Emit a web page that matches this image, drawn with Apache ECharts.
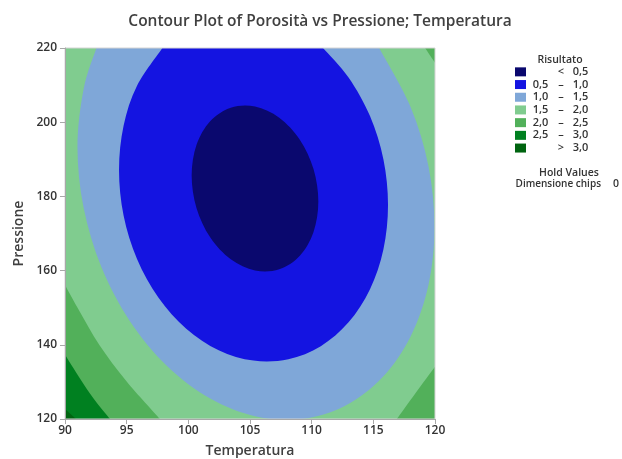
<!DOCTYPE html>
<html>
<head>
<meta charset="utf-8">
<script src="https://cdn.jsdelivr.net/npm/echarts@6/dist/echarts.min.js"></script>
<style>
  html, body { margin: 0; padding: 0; background: #fff; }
  #chart { width: 622px; height: 459px; }
</style>
</head>
<body>
<div id="chart"></div>
<script>
// Axis ticks
const temperaturaTicks = [90, 95, 100, 105, 110, 115, 120];
const pressioneTicks = [120, 140, 160, 180, 200, 220];

// Contour levels of Porosità and the fill colour of each band
const levels = [0.5, 1.0, 1.5, 2.0, 2.5, 3.0];
const bandColors = ['#0a086e', '#1414e1', '#7fa7d8', '#80cc8f', '#52b05a', '#008020', '#006410'];

// Contour lines as [Temperatura, Pressione] pairs
const contour05 = [[110.54,178.63],[110.15,170.43],[109.04,164.02],[107.37,160.35],[105.41,160.03],
  [103.44,163.05],[101.77,168.98],[100.66,176.90],[100.27,185.63],[100.66,193.83],[101.77,200.24],
  [103.44,203.91],[105.41,204.23],[107.37,201.21],[109.04,195.28],[110.15,187.36]];
const contour10 = [[97.90,220],[95.84,209.81],[94.75,199.03],[94.38,187.12],[94.75,174.88],[95.84,163.15],
  [97.57,152.75],[99.83,144.35],[102.46,138.54],[105.28,135.74],[108.11,136.12],[110.74,139.64],
  [112.99,146.06],[114.73,154.99],[115.82,165.77],[116.19,177.68],[115.82,189.92],[114.73,201.64],
  [112.99,212.05],[110.92,220]];
const contour15 = [[92.55,220],[91.51,208.95],[91.01,193.32],[91.51,176.93],[92.95,160.94],[95.25,146.42],
  [98.25,134.35],[101.74,125.58],[105.49,120.67],[109.23,119.99],[112.72,123.57],[115.72,131.16],
  [118.02,142.26],[119.47,156.12],[119.96,171.75],[119.47,188.14],[118.02,204.12],[115.47,220]];
const contour20Low = [[90,156.1],[91.2,148.9],[92.8,139.9],[95.0,130.1],[97.7,120]];
const contour20Right = [[116.9,120],[118.4,126.9],[120,134.1]];
const contour20Top = [[119.2,220],[120,216]];
const contour25 = [[90,137.3],[91.2,131.0],[92.3,125.6],[93.65,120]];
const contour30 = [[90,122.7],[90.9,120]];

const tMin = temperaturaTicks[0], tMax = temperaturaTicks[temperaturaTicks.length - 1];
const pMin = pressioneTicks[0], pMax = pressioneTicks[pressioneTicks.length - 1];

function fmt(v) { return v.toFixed(1).replace('.', ','); }
const bandNames = [];
for (let i = 0; i <= levels.length; i++) {
  if (i === 0) bandNames.push('< ' + fmt(levels[0]));
  else if (i === levels.length) bandNames.push('> ' + fmt(levels[i - 1]));
  else bandNames.push(fmt(levels[i - 1]) + ' – ' + fmt(levels[i]));
}

// Regions filled per band (painted from the outside in)
const bandRegions = {
  3: [{ curve: [[tMin, pMin], [tMax, pMin], [tMax, pMax], [tMin, pMax]], straight: true }],
  4: [{ curve: contour20Low, corners: [[tMin, pMin]] },
      { curve: contour20Right, corners: [[tMax, pMin]] },
      { curve: contour20Top, corners: [[tMax, pMax]] }],
  5: [{ curve: contour25, corners: [[tMin, pMin]] }],
  6: [{ curve: contour30, corners: [[tMin, pMin]] }],
  2: [{ curve: contour15 }],
  1: [{ curve: contour10 }],
  0: [{ curve: contour05, closed: true }]
};
const paintOrder = [3, 4, 5, 6, 2, 1, 0];

// Smooth curve through the contour points (Catmull-Rom as cubic Béziers)
function spline(pts, closed) {
  const n = pts.length;
  const at = (i) => closed ? pts[(i + n) % n] : pts[Math.max(0, Math.min(n - 1, i))];
  let d = 'M' + pts[0][0] + ' ' + pts[0][1];
  const segs = closed ? n : n - 1;
  for (let i = 0; i < segs; i++) {
    const p0 = at(i - 1), p1 = at(i), p2 = at(i + 1), p3 = at(i + 2);
    const c1 = [p1[0] + (p2[0] - p0[0]) / 6, p1[1] + (p2[1] - p0[1]) / 6];
    const c2 = [p2[0] - (p3[0] - p1[0]) / 6, p2[1] - (p3[1] - p1[1]) / 6];
    d += ' C' + c1[0] + ' ' + c1[1] + ' ' + c2[0] + ' ' + c2[1] + ' ' + p2[0] + ' ' + p2[1];
  }
  return d;
}

function regionPath(region, api) {
  const pts = region.curve.map((p) => api.coord(p));
  let d;
  if (region.straight) {
    d = 'M' + pts.map((p) => p[0] + ' ' + p[1]).join(' L');
  } else {
    d = spline(pts, !!region.closed);
  }
  (region.corners || []).forEach((c) => {
    const q = api.coord(c);
    d += ' L' + q[0] + ' ' + q[1];
  });
  return d + ' Z';
}

function makeRender(band) {
  return function (params, api) {
    const a = api.coord([tMin, pMax]);
    const b = api.coord([tMax, pMin]);
    return {
      type: 'group',
      clipPath: { type: 'rect', shape: { x: a[0], y: a[1], width: b[0] - a[0], height: b[1] - a[1] } },
      children: bandRegions[band].map((r) => ({
        type: 'path',
        shape: { pathData: regionPath(r, api) },
        style: { fill: bandColors[band], stroke: null }
      }))
    };
  };
}

const series = paintOrder.map((band) => ({
  type: 'custom',
  name: bandNames[band],
  clip: true,
  silent: true,
  itemStyle: { color: bandColors[band] },
  renderItem: makeRender(band),
  data: [[tMin, pMin]],
  z: 2
}));

const FONT = 'Open Sans';
const chart = echarts.init(document.getElementById('chart'), null, { renderer: 'canvas' });
chart.setOption({
  animation: false,
  backgroundColor: '#ffffff',
  textStyle: { fontFamily: FONT },
  title: {
    text: 'Contour Plot of Porosità vs Pressione; Temperatura',
    left: 315, top: 9, textAlign: 'center',
    textStyle: { fontFamily: FONT, fontSize: 15.5, fontWeight: 600, color: '#404040' }
  },
  grid: {
    left: 65, top: 48, right: 187, bottom: 40,
    outerBoundsMode: 'none', containLabel: false,
    show: true, borderColor: '#d4d4d4', borderWidth: 1, z: 5
  },
  xAxis: {
    type: 'value', min: tMin, max: tMax, interval: temperaturaTicks[1] - temperaturaTicks[0],
    name: 'Temperatura', nameLocation: 'middle', nameGap: 25,
    nameTextStyle: { fontFamily: FONT, fontSize: 14, fontWeight: 600, color: '#404040' },
    axisLine: { show: true, lineStyle: { color: '#a8a8a8', width: 1 } },
    axisTick: { show: true, length: 5, lineStyle: { color: '#a8a8a8' } },
    axisLabel: { margin: 6, fontSize: 12, fontWeight: 600, color: '#333333' },
    splitLine: { show: false }, z: 6
  },
  yAxis: {
    type: 'value', min: pMin, max: pMax, interval: pressioneTicks[1] - pressioneTicks[0],
    name: 'Pressione', nameLocation: 'middle', nameGap: 34,
    nameTextStyle: { fontFamily: FONT, fontSize: 14, fontWeight: 600, color: '#404040' },
    axisLine: { show: true, lineStyle: { color: '#a8a8a8', width: 1 } },
    axisTick: { show: true, length: 5, lineStyle: { color: '#a8a8a8' } },
    axisLabel: { margin: 8, fontSize: 12, fontWeight: 600, color: '#333333' },
    splitLine: { show: false }, z: 6
  },
  legend: {
    orient: 'vertical', left: 510, top: 61,
    data: bandNames.map((n) => ({ name: n, icon: 'rect' })),
    itemWidth: 11, itemHeight: 9, itemGap: 1, selectedMode: false,
    formatter: function (name) {
      let lo = '', mid = '', hi = '';
      if (name.indexOf(' – ') >= 0) { const s = name.split(' – '); lo = s[0]; mid = '–'; hi = s[1]; }
      else { const s = name.split(' '); mid = s[0]; hi = s[1]; }
      return '{lo|' + lo + '}{mid|' + mid + '}{hi|' + hi + '}';
    },
    textStyle: {
      fontFamily: FONT, fontSize: 11, color: '#333333', lineHeight: 11.7,
      rich: {
        lo: { width: 19, align: 'right', fontSize: 11, fontWeight: 600, color: '#333333' },
        mid: { width: 22, align: 'center', fontSize: 11, fontWeight: 600, color: '#333333' },
        hi: { width: 17, align: 'left', fontSize: 11, fontWeight: 600, color: '#333333' }
      }
    }
  },
  graphic: [
    { type: 'text', x: 560, y: 60, style: { text: 'Risultato', fontFamily: FONT, fontSize: 10.5, fontWeight: 600, fill: '#333333', textAlign: 'center', textVerticalAlign: 'middle' } },
    { type: 'text', x: 569, y: 173, style: { text: 'Hold Values', fontFamily: FONT, fontSize: 10.5, fontWeight: 600, fill: '#333333', textAlign: 'center', textVerticalAlign: 'middle' } },
    { type: 'text', x: 601, y: 184, style: { text: 'Dimensione chips', fontFamily: FONT, fontSize: 10, fontWeight: 600, fill: '#333333', textAlign: 'right', textVerticalAlign: 'middle' } },
    { type: 'text', x: 616, y: 184, style: { text: '0', fontFamily: FONT, fontSize: 10.5, fontWeight: 600, fill: '#333333', textAlign: 'center', textVerticalAlign: 'middle' } }
  ],
  series: series
});
</script>
</body>
</html>
